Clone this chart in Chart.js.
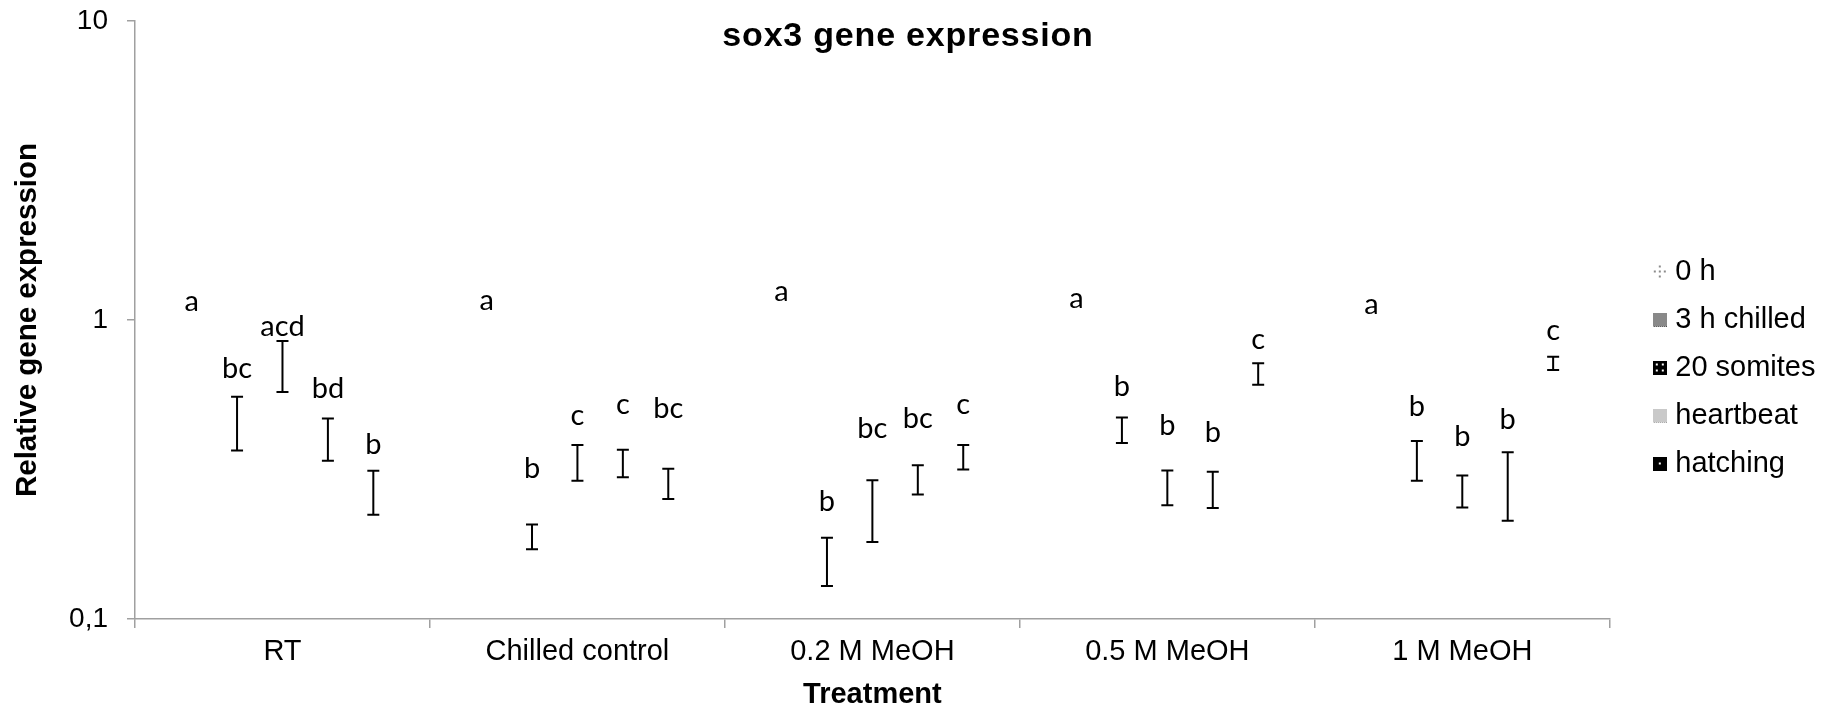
<!DOCTYPE html>
<html>
<head>
<meta charset="utf-8">
<title>sox3 gene expression</title>
<script src="https://cdn.jsdelivr.net/npm/chart.js@4.4.1/dist/chart.umd.min.js"></script>
<style>
  html, body { margin: 0; padding: 0; background: #fff; }
  canvas { display: block; }
</style>
</head>
<body>
<canvas id="sox3-chart" width="1834" height="714"></canvas>
<script>
const treatments = ['RT', 'Chilled control', '0.2 M MeOH', '0.5 M MeOH', '1 M MeOH'];
const stages = ['0 h', '3 h chilled', '20 somites', 'heartbeat', 'hatching'];
const yTicks = [0.1, 1, 10];

// mean relative expression per stage, one value per treatment
const mean0h = [1, 1, 1, 1, 1];
const mean3h = [0.460, 0.189, 0.158, 0.430, 0.342];
const mean20s = [0.712, 0.336, 0.236, 0.277, 0.269];
const meanHeart = [0.403, 0.333, 0.294, 0.273, 0.287];
const meanHatch = [0.268, 0.285, 0.349, 0.662, 0.717];

// standard errors (0 h has none)
const se0h = [null, null, null, null, null];
const se3h = [0.094, 0.018, 0.029, 0.042, 0.052];
const se20s = [0.138, 0.046, 0.055, 0.037, 0.033];
const seHeart = [0.065, 0.035, 0.033, 0.038, 0.074];
const seHatch = [0.045, 0.033, 0.033, 0.055, 0.037];

// significance letters and the value their baseline sits at
const letters0h = ['a', 'a', 'a', 'a', 'a'];
const letters3h = ['bc', 'b', 'b', 'b', 'b'];
const letters20s = ['acd', 'c', 'bc', 'b', 'b'];
const lettersHeart = ['bd', 'c', 'bc', 'b', 'b'];
const lettersHatch = ['b', 'bc', 'c', 'c', 'c'];
const letterAt0h = [1.07, 1.08, 1.16, 1.10, 1.05];
const letterAt3h = [0.64, 0.296, 0.229, 0.555, 0.478];
const letterAt20s = [0.885, 0.446, 0.403, 0.413, 0.378];
const letterAtHeart = [0.55, 0.486, 0.435, 0.392, 0.432];
const letterAtHatch = [0.357, 0.470, 0.486, 0.799, 0.858];

const means = [mean0h, mean3h, mean20s, meanHeart, meanHatch];
const errors = [se0h, se3h, se20s, seHeart, seHatch];
const letters = [letters0h, letters3h, letters20s, lettersHeart, lettersHatch];
const letterAt = [letterAt0h, letterAt3h, letterAt20s, letterAtHeart, letterAtHatch];

// small swatches standing in for the pattern fills of the legend
function swatch(kind) {
    const c = document.createElement('canvas');
    c.width = 14;
    c.height = 14;
    const g = c.getContext('2d');
    if (kind === 0) {
        g.fillStyle = '#fff';
        g.fillRect(0, 0, 14, 14);
        g.fillStyle = '#8c8c8c';
        [[6, 1], [1, 6], [11, 6], [6, 11], [6, 6]].forEach(p => g.fillRect(p[0], p[1], 2, 2));
    } else if (kind === 1 || kind === 3) {
        g.fillStyle = kind === 1 ? '#c8c8c8' : '#f2f2f2';
        g.fillRect(0, 0, 14, 14);
        g.fillStyle = kind === 1 ? '#4a4a4a' : '#a0a0a0';
        for (let i = 0; i < 14; i++) {
            for (let j = 0; j < 14; j++) {
                if ((i + j) % 2 === 0) g.fillRect(i, j, 1, 1);
            }
        }
    } else if (kind === 2) {
        g.fillStyle = '#000';
        g.fillRect(0, 0, 14, 14);
        g.fillStyle = '#fff';
        [[3, 3], [9, 3], [3, 9], [9, 9]].forEach(p => g.fillRect(p[0], p[1], 2, 2));
    } else {
        g.fillStyle = '#000';
        g.fillRect(0, 0, 14, 14);
        g.fillStyle = '#fff';
        g.fillRect(6, 6, 2, 2);
    }
    return c;
}

const swatches = stages.map((s, i) => swatch(i));

const errorBars = {
    id: 'errorBars',
    afterDatasetsDraw(chart) {
        const ctx = chart.ctx;
        const y = chart.scales.y;
        ctx.save();
        ctx.strokeStyle = '#000';
        ctx.lineWidth = 2;
        means.forEach((series, i) => {
            const meta = chart.getDatasetMeta(i);
            series.forEach((m, j) => {
                const se = errors[i][j];
                if (se === null) return;
                const x = meta.data[j].x;
                const top = y.getPixelForValue(m + se);
                const bottom = y.getPixelForValue(m - se);
                ctx.beginPath();
                ctx.moveTo(x, top);
                ctx.lineTo(x, bottom);
                ctx.moveTo(x - 6, top);
                ctx.lineTo(x + 6, top);
                ctx.moveTo(x - 6, bottom);
                ctx.lineTo(x + 6, bottom);
                ctx.stroke();
            });
        });

        // significance letters
        ctx.fillStyle = '#000';
        ctx.font = '29px Lato, "Noto Sans", sans-serif';
        ctx.textAlign = 'center';
        ctx.textBaseline = 'alphabetic';
        letters.forEach((series, i) => {
            const meta = chart.getDatasetMeta(i);
            series.forEach((txt, j) => {
                ctx.fillText(txt, meta.data[j].x, y.getPixelForValue(letterAt[i][j]));
            });
        });
        ctx.restore();
    }
};

const chartTitle = {
    id: 'chartTitle',
    afterDraw(chart) {
        const ctx = chart.ctx;
        ctx.save();
        ctx.fillStyle = '#000';
        ctx.font = 'bold 34px "Liberation Sans", Arial, sans-serif';
        ctx.letterSpacing = '0.8px';
        ctx.textAlign = 'center';
        ctx.textBaseline = 'alphabetic';
        ctx.fillText('sox3 gene expression', 908, 46);
        ctx.restore();
    }
};

Chart.defaults.font.family = '"Liberation Sans", Arial, sans-serif';
Chart.defaults.color = '#000';

const axisGray = '#a0a0a0';

const ctx = document.getElementById('sox3-chart').getContext('2d');
const chart = new Chart(ctx, {
    type: 'bar',
    data: {
        labels: treatments,
        datasets: stages.map((s, i) => ({
            label: s,
            data: means[i],
            backgroundColor: 'rgba(0, 0, 0, 0)',
            borderWidth: 0,
            categoryPercentage: 0.77,
            barPercentage: 0.9
        }))
    },
    options: {
        responsive: false,
        animation: false,
        layout: { padding: { top: 21, right: 8.5, left: 0, bottom: 0 } },
        plugins: {
            title: { display: false },
            tooltip: { enabled: false },
            legend: {
                position: 'right',
                align: 'center',
                labels: {
                    font: { size: 29 },
                    color: '#000',
                    padding: 19,
                    usePointStyle: true,
                    pointStyleWidth: 2,
                    generateLabels(chart) {
                        return chart.data.datasets.map((ds, i) => ({
                            text: ds.label,
                            pointStyle: swatches[i],
                            fillStyle: '#000',
                            strokeStyle: 'rgba(0,0,0,0)',
                            lineWidth: 0,
                            hidden: false,
                            datasetIndex: i
                        }));
                    }
                }
            }
        },
        scales: {
            x: {
                type: 'category',
                offset: true,
                grid: {
                    offset: true,
                    drawOnChartArea: false,
                    drawTicks: true,
                    tickLength: 9,
                    color: axisGray,
                    lineWidth: 1.5
                },
                border: { color: axisGray, width: 1.5 },
                ticks: { font: { size: 29 }, padding: 7, color: '#000', maxRotation: 0 },
                title: {
                    display: true,
                    text: 'Treatment',
                    font: { size: 29, weight: 'bold' },
                    color: '#000',
                    padding: { top: 0, bottom: 2 }
                },
                afterFit(scale) { scale.height = 95; }
            },
            y: {
                type: 'logarithmic',
                min: 0.1,
                max: 10,
                grid: {
                    drawOnChartArea: false,
                    drawTicks: true,
                    tickLength: 8,
                    color: axisGray,
                    lineWidth: 1.5
                },
                border: { color: axisGray, width: 1.5 },
                afterBuildTicks(scale) {
                    scale.ticks = yTicks.map(v => ({ value: v }));
                },
                ticks: {
                    font: { size: 28 },
                    color: '#000',
                    padding: 19,
                    callback: v => String(v).replace('.', ',')
                },
                title: {
                    display: true,
                    text: 'Relative gene expression',
                    font: { size: 29.5, weight: 'bold' },
                    color: '#000',
                    padding: { top: 10, bottom: 0 }
                },
                afterFit(scale) {
                    scale.width = 135;
                    scale.paddingTop = 0;
                    scale.paddingBottom = 0;
                }
            },
            // empty axis that keeps the gap between the plot and the legend
            gap: {
                type: 'linear',
                position: 'right',
                display: true,
                grid: { display: false },
                border: { display: false },
                ticks: { display: false },
                afterFit(scale) { scale.width = 30; }
            }
        }
    },
    plugins: [errorBars, chartTitle]
});
</script>
</body>
</html>
